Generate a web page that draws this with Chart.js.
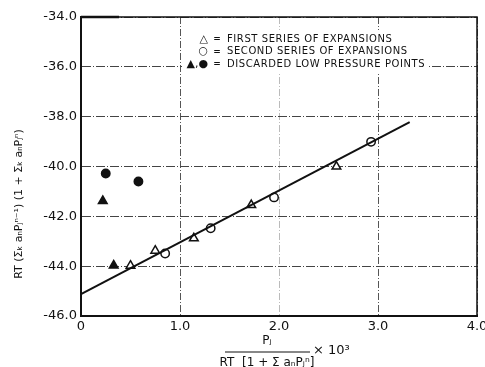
<!doctype html>
<html>
<head>
<title>Expansion plot</title>
<script src="https://cdn.jsdelivr.net/npm/chart.js@4/dist/chart.umd.min.js"></script>
<style>
  body { margin: 0; background: #fff; }
  canvas { -moz-user-select: none; -webkit-user-select: none; -ms-user-select: none; }
</style>
</head>
<body>
<div style="width:485px;height:367px;">
  <canvas id="plot" width="485" height="367"></canvas>
</div>
<script>
// values
var firstSeries = [
  {x: 0.50, y: -43.98}, {x: 0.75, y: -43.38}, {x: 1.14, y: -42.88},
  {x: 1.72, y: -41.55}, {x: 2.58, y: -40.00}
];
var secondSeries = [
  {x: 0.85, y: -43.49}, {x: 1.31, y: -42.48}, {x: 1.95, y: -41.24}, {x: 2.93, y: -39.01}
];
var discardedTriangles = [ {x: 0.22, y: -41.38}, {x: 0.33, y: -43.97} ];
var discardedCircles = [ {x: 0.25, y: -40.28}, {x: 0.58, y: -40.60} ];
var fitLine = [ {x: 0, y: -45.12}, {x: 3.32, y: -38.22} ];

var xTicks = [0, 1, 2, 3, 4];
var yTicks = [-46, -44, -42, -40, -38, -36, -34];
var legendLines = [
  ['\u25B3', 'FIRST SERIES OF EXPANSIONS'],
  ['\u25CB', 'SECOND SERIES OF EXPANSIONS'],
  ['\u25B2,\u25CF', 'DISCARDED LOW PRESSURE POINTS']
];

var font = '"DejaVu Sans", "Liberation Sans", sans-serif';

var extras = {
  id: 'extras',
  afterDraw: function(chart) {
    var ctx = chart.ctx, a = chart.chartArea;
    ctx.save();
    // frame top / right
    ctx.strokeStyle = '#111';
    ctx.lineWidth = 1.5;
    ctx.beginPath();
    ctx.moveTo(a.left, a.top); ctx.lineTo(a.right, a.top); ctx.lineTo(a.right, a.bottom);
    ctx.stroke();
    ctx.lineWidth = 2.5;
    ctx.beginPath();
    ctx.moveTo(a.left, a.top); ctx.lineTo(a.left + 38, a.top);
    ctx.stroke();

    // legend block
    ctx.fillStyle = '#fff';
    ctx.fillRect(182, 30, 246, 42);
    ctx.fillStyle = '#111';
    ctx.font = '10px ' + font;
    var t1 = legendLines[0][1], t3 = legendLines[2][1];
    var sp = ((169 - ctx.measureText(t1).width) / t1.length +
              (194 - ctx.measureText(t3).width) / t3.length) / 2;
    ctx.textBaseline = 'middle';
    legendLines.forEach(function(l, i) {
      var y = 39 + i * 12.5;
      ctx.letterSpacing = '0px';
      ctx.font = '11px ' + font;
      ctx.textAlign = 'right';
      ctx.fillText(l[0], 208, y);
      ctx.textAlign = 'center';
      ctx.font = 'bold 9px ' + font;
      ctx.fillText('=', 217, y);
      ctx.textAlign = 'left';
      ctx.font = '10px ' + font;
      ctx.letterSpacing = sp.toFixed(2) + 'px';
      ctx.fillText(l[1], 227, y);
    });
    ctx.letterSpacing = '0px';

    // y title
    ctx.save();
    ctx.translate(19, 204);
    ctx.rotate(-Math.PI / 2);
    ctx.font = '11px ' + font;
    ctx.textAlign = 'center';
    ctx.fillText('RT (\u03A3\u2096 a\u2099P\u2C7C\u207F\u207B\u00B9) (1 + \u03A3\u2096 a\u2099P\u2C7C\u207F)', 0, 0);
    ctx.restore();

    // x title (fraction)
    ctx.font = '12px ' + font;
    ctx.textAlign = 'center';
    ctx.fillText('P\u2C7C', 267, 341);
    ctx.lineWidth = 1.2;
    ctx.beginPath();
    ctx.moveTo(225, 352); ctx.lineTo(310, 352);
    ctx.stroke();
    ctx.fillText('RT  [1 + \u03A3 a\u2099P\u2C7C\u207F]', 267, 363);
    ctx.textAlign = 'left';
    ctx.font = '13px ' + font;
    ctx.fillText('\u00D7 10\u00B3', 313, 351);
    ctx.restore();
  }
};

var pointStyle = function(style, fill, r) {
  return {
    type: 'scatter', pointStyle: style, pointRadius: r, pointHoverRadius: r,
    borderColor: '#111', backgroundColor: fill, pointBorderWidth: 1.5, showLine: false
  };
};

var ds1 = Object.assign(pointStyle('triangle', '#fff', 5), {label: 'First series', data: firstSeries});
var ds2 = Object.assign(pointStyle('circle', '#fff', 4.2), {label: 'Second series', data: secondSeries});
var ds3 = Object.assign(pointStyle('triangle', '#111', 5), {label: 'Discarded', data: discardedTriangles});
var ds4 = Object.assign(pointStyle('circle', '#111', 4.2), {label: 'Discarded', data: discardedCircles});
var ds5 = {
  type: 'line', label: 'Fit', data: fitLine, borderColor: '#111', borderWidth: 2,
  pointRadius: 0, fill: false, tension: 0
};

new Chart(document.getElementById('plot').getContext('2d'), {
  type: 'scatter',
  data: { datasets: [ds5, ds1, ds2, ds3, ds4] },
  options: {
    responsive: false,
    animation: false,
    events: [],
    layout: { padding: { left: 0, right: 8, top: 17, bottom: 0 } },
    plugins: { legend: { display: false }, tooltip: { enabled: false } },
    scales: {
      x: {
        type: 'linear', min: 0, max: 4,
        afterBuildTicks: function(s) { s.ticks = xTicks.map(function(v) { return {value: v}; }); },
        afterFit: function(s) { s.height = 51; s.paddingLeft = 0; s.paddingRight = 0; },
        ticks: {
          color: '#111', padding: 3, maxRotation: 0,
          font: { family: font, size: 13 },
          callback: function(v) { return v === 0 ? '0' : v.toFixed(1); }
        },
        grid: {
          color: function(c) { return c.tick && c.tick.value === 2 ? '#bbb' : '#555'; },
          lineWidth: 1, drawTicks: false
        },
        border: { display: true, color: '#111', width: 2, dash: [7, 2, 1, 2] }
      },
      y: {
        type: 'linear', min: -46, max: -34,
        afterBuildTicks: function(s) { s.ticks = yTicks.map(function(v) { return {value: v}; }); },
        afterFit: function(s) { s.width = 81; s.paddingTop = 0; s.paddingBottom = 0; },
        ticks: {
          color: '#111', padding: 4,
          font: { family: font, size: 13 },
          callback: function(v) { return v.toFixed(1); }
        },
        grid: { color: '#444', lineWidth: 1, drawTicks: false },
        border: { display: true, color: '#111', width: 2, dash: [9, 2, 1, 2] }
      }
    }
  },
  plugins: [extras]
});
</script>
</body>
</html>
